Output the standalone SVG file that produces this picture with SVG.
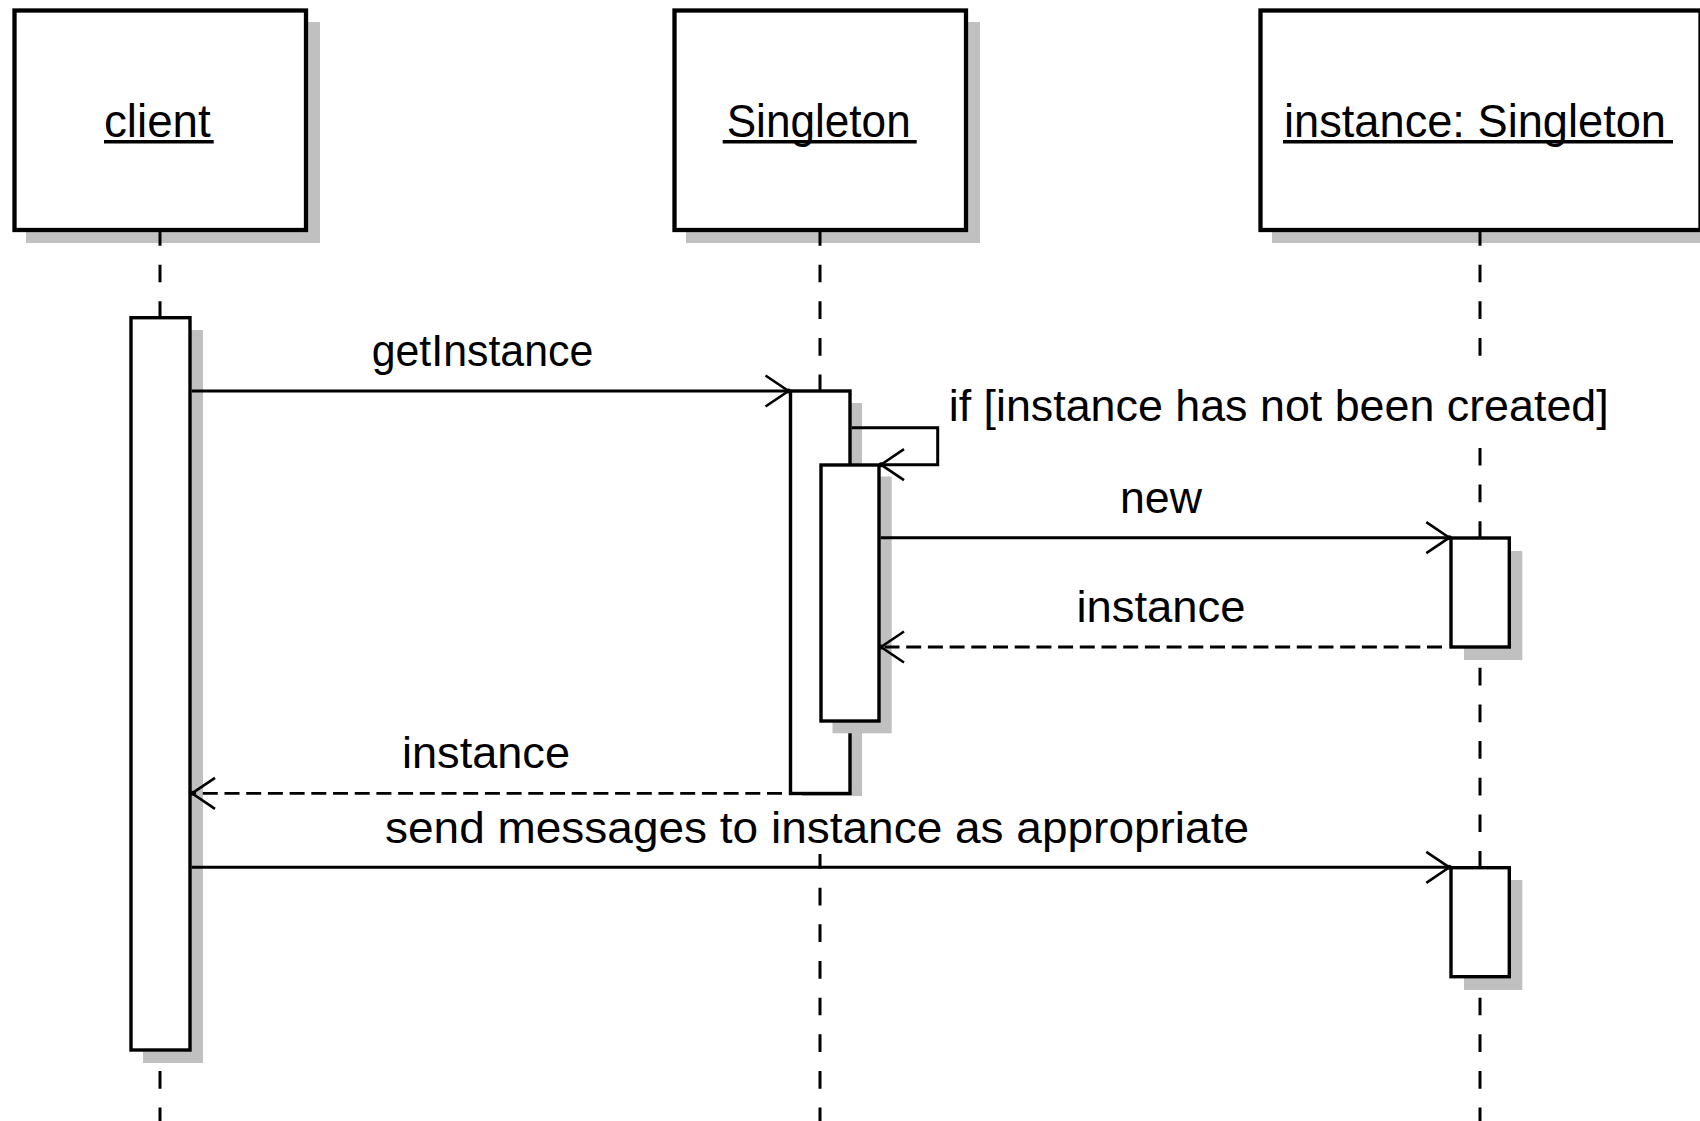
<svg xmlns="http://www.w3.org/2000/svg" width="1700" height="1121" viewBox="0 0 1700 1121">
<defs>
<style>
.box{fill:#fff;stroke:#000;stroke-width:4.3}
.shadow{fill:#c0c0c0}
.act{fill:#fff;stroke:#000;stroke-width:3.4}
.life{stroke:#000;stroke-width:3;stroke-dasharray:17.7 18.95;fill:none}
.msg{stroke:#000;stroke-width:3;fill:none;marker-end:url(#open)}
.ret{stroke:#000;stroke-width:2.8;fill:none;stroke-dasharray:15 6.7;marker-end:url(#open)}
.title{font-family:"Liberation Sans",Arial,sans-serif;font-size:47px;fill:#000}
.ul{stroke:#000;stroke-width:3.4}
.lbl{font-family:"Liberation Sans",Arial,sans-serif;font-size:44px;fill:#000}
.lblbg{fill:#fff}
</style>
<marker id="open" markerUnits="userSpaceOnUse" markerWidth="40" markerHeight="40" refX="0" refY="0" orient="auto" overflow="visible">
<path d="M-23,-15.5 L0,0 L-23,15.5" fill="none" stroke="#000" stroke-width="2.6" stroke-dasharray="none"/>
<circle r="2.5" fill="#000"/>
</marker>
</defs>
<rect width="1700" height="1121" fill="#fff"/>

<g id="client">
<rect class="shadow" x="26" y="22" width="294" height="221"/>
<rect class="box" x="14.5" y="10.5" width="291.5" height="219.5"/>
<text class="title" x="104" y="137" textLength="106.7" lengthAdjust="spacingAndGlyphs">client</text>
<line class="ul" x1="104" y1="141.7" x2="213.7" y2="141.7"/>
<line class="life" x1="160" y1="228" x2="160" y2="1121"/>
<rect class="shadow" x="143" y="330" width="60" height="733"/>
<rect class="act" x="131" y="317.7" width="59" height="732.3"/>
</g>

<g id="singleton">
<rect class="shadow" x="686" y="22" width="294" height="221"/>
<rect class="box" x="674.5" y="10.5" width="291.5" height="219.5"/>
<text class="title" x="726.7" y="137" textLength="184" lengthAdjust="spacingAndGlyphs">Singleton</text>
<line class="ul" x1="722.7" y1="141.7" x2="916.7" y2="141.7"/>
<line class="life" x1="820" y1="228" x2="820" y2="1121"/>
<rect class="shadow" x="802" y="403" width="60" height="403"/>
<rect class="act" x="790.5" y="391" width="59.5" height="402.5"/>
<rect class="shadow" x="832.5" y="476.5" width="59.2" height="256.8"/>
<rect class="act" x="821" y="465" width="58" height="256"/>
</g>

<g id="instance">
<rect class="shadow" x="1272" y="22" width="440" height="221"/>
<rect class="box" x="1260.5" y="10.5" width="440" height="219.5"/>
<text class="title" x="1284" y="137" textLength="382" lengthAdjust="spacingAndGlyphs">instance: Singleton</text>
<line class="ul" x1="1283" y1="141.7" x2="1673" y2="141.7"/>
<line class="life" x1="1480" y1="228" x2="1480" y2="1121"/>
<rect class="shadow" x="1464" y="551" width="58.3" height="109"/>
<rect class="act" x="1451" y="538" width="58.3" height="109"/>
<rect class="shadow" x="1464" y="880" width="58.3" height="110"/>
<rect class="act" x="1451" y="867.7" width="58.3" height="109"/>
</g>

<g id="connectors">
<line class="msg" x1="191.7" y1="391" x2="788.5" y2="391"/>
<path class="msg" d="M851.7,427.7 H937.7 V464.7 H881"/>
<line class="msg" x1="880.7" y1="537.7" x2="1449.3" y2="537.7"/>
<line class="ret" x1="1442" y1="647" x2="881" y2="647"/>
<line class="ret" x1="782" y1="793.3" x2="192" y2="793.3"/>
<line class="msg" x1="191.7" y1="867.3" x2="1449.3" y2="867.3"/>
</g>

<g id="labels">
<rect class="lblbg" x="369" y="323" width="227" height="56"/>
<text class="lbl" x="482.5" y="366" text-anchor="middle" textLength="221.6" lengthAdjust="spacingAndGlyphs">getInstance</text>
<rect class="lblbg" x="946" y="373.5" width="666" height="59"/>
<text class="lbl" x="948.7" y="421" textLength="660" lengthAdjust="spacingAndGlyphs">if [instance has not been created]</text>
<rect class="lblbg" x="1117" y="470" width="88" height="56"/>
<text class="lbl" x="1161" y="513" text-anchor="middle" textLength="82" lengthAdjust="spacingAndGlyphs">new</text>
<rect class="lblbg" x="1074" y="579" width="174" height="56"/>
<text class="lbl" x="1161" y="622" text-anchor="middle" textLength="169" lengthAdjust="spacingAndGlyphs">instance</text>
<rect class="lblbg" x="400" y="725" width="172" height="56"/>
<text class="lbl" x="486" y="768" text-anchor="middle" textLength="168" lengthAdjust="spacingAndGlyphs">instance</text>
<rect class="lblbg" x="383" y="796" width="868" height="58"/>
<text class="lbl" x="817" y="842.5" text-anchor="middle" textLength="864" lengthAdjust="spacingAndGlyphs">send messages to instance as appropriate</text>
</g>
</svg>
